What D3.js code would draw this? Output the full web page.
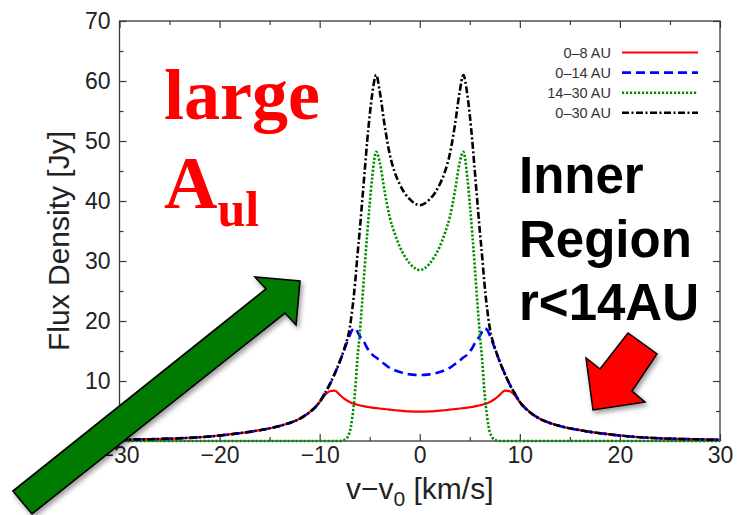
<!DOCTYPE html>
<html>
<head>
<meta charset="utf-8">
<script src="https://cdn.jsdelivr.net/npm/d3@7"></script>
<style>
  html, body { margin: 0; padding: 0; background: #fff; }
  svg { display: block; }
</style>
</head>
<body>
<div id="chart"></div>
<script>
// Line-of-sight velocity grid [km/s]
const velocity = [-30,-27,-24,-21,-18,-16,-14,-13,-12,-11,-10,-9.5,-9,-8.5,-8,-7.5,-7,-6.75,-6.45,-6.25,-6,-5.75,-5.5,-5.25,-5,-4.75,-4.35,-4,-3.5,-3,-2.5,-2,-1.5,-1,-0.5,0,
  0.5,1,1.5,2,2.5,3,3.5,4,4.35,4.75,5,5.25,5.5,5.75,6,6.25,6.45,6.75,7,7.5,8,8.5,9,9.5,10,11,12,13,14,16,18,21,24,27,30];

// Flux density [Jy] emitted from each radial range of the disk
const flux0to8 = [0.2,0.3,0.45,0.75,1.3,1.8,2.5,3.0,3.7,4.8,6.5,7.6,8.3,8.4,7.7,7.0,6.5,6.3,6.15,6.05,5.95,5.85,5.78,5.7,5.63,5.56,5.48,5.42,5.32,5.22,5.13,5.05,4.98,4.93,4.9,4.88,
  4.9,4.93,4.98,5.05,5.13,5.22,5.32,5.42,5.48,5.56,5.63,5.7,5.78,5.85,5.95,6.05,6.15,6.3,6.5,7.0,7.7,8.4,8.3,7.6,6.5,4.8,3.7,3.0,2.5,1.8,1.3,0.75,0.45,0.3,0.2];
const flux0to14 = [0.2,0.3,0.45,0.75,1.3,1.8,2.5,3.0,3.7,4.8,6.5,7.9,9.4,11.2,13.2,15.4,17.6,18.5,18.8,18.3,17.5,16.9,16.3,15.5,14.9,14.4,13.9,13.4,12.8,12.2,11.8,11.5,11.25,11.1,11.02,11.0,
  11.02,11.1,11.25,11.5,11.8,12.2,12.8,13.4,13.9,14.4,14.9,15.5,16.3,16.9,17.5,18.3,18.8,18.5,17.6,15.4,13.2,11.2,9.4,7.9,6.5,4.8,3.7,3.0,2.5,1.8,1.3,0.75,0.45,0.3,0.2];
const flux14to30 = [0,0,0,0,0,0,0,0,0,0,0,0,0,0,0,0.2,1.5,3.8,8.5,13.2,17.8,23.2,29.0,34.5,39.5,44.0,48.2,46.5,41.5,37.3,34.6,32.4,30.8,29.6,28.8,28.5,
  28.8,29.6,30.8,32.4,34.6,37.3,41.5,46.5,48.2,44.0,39.5,34.5,29.0,23.2,17.8,13.2,8.5,3.8,1.5,0.2,0,0,0,0,0,0,0,0,0,0,0,0,0,0,0];
const flux0to30 = [0.2,0.3,0.45,0.75,1.3,1.8,2.5,3.0,3.7,4.8,6.5,7.9,9.4,11.2,13.2,15.6,18.8,21.8,26.5,30.5,35.0,40.0,45.0,50.0,54.3,57.8,61.0,58.3,52.5,47.8,44.8,42.8,41.3,40.3,39.6,39.3,
  39.6,40.3,41.3,42.8,44.8,47.8,52.5,58.3,61.0,57.8,54.3,50.0,45.0,40.0,35.0,30.5,26.5,21.8,18.8,15.6,13.2,11.2,9.4,7.9,6.5,4.8,3.7,3.0,2.5,1.8,1.3,0.75,0.45,0.3,0.2];

const seriesLabels = ["0–8 AU", "0–14 AU", "14–30 AU", "0–30 AU"];
const xTicks = [-30, -20, -10, 0, 10, 20, 30];
const xMinorTicks = [-25, -15, -5, 5, 15, 25];
const yTicks = [10, 20, 30, 40, 50, 60, 70];
const yMinorTicks = [5, 15, 25, 35, 45, 55, 65];

const W = 741, H = 515;
const margin = { left: 119.5, right: 21, top: 21, bottom: 74 };

const svg = d3.select("#chart").append("svg")
  .attr("width", W).attr("height", H)
  .attr("viewBox", `0 0 ${W} ${H}`);

const defs = svg.append("defs");
const shadow = defs.append("filter").attr("id", "arrowShadow")
  .attr("x", "-20%").attr("y", "-20%").attr("width", "140%").attr("height", "140%");
shadow.append("feDropShadow")
  .attr("dx", 2).attr("dy", 3).attr("stdDeviation", 2.5)
  .attr("flood-color", "#000").attr("flood-opacity", 0.4);

const x = d3.scaleLinear().domain([-30, 30]).range([margin.left, W - margin.right]);
const y = d3.scaleLinear().domain([0, 70]).range([H - margin.bottom, margin.top]);

const axisFont = "'Liberation Sans', Arial, Helvetica, sans-serif";
const axisColor = "#3a3a3a";

// Axes: ticks point inward and are mirrored on the top and right edges
function styleAxis(g) {
  g.select(".domain").remove();
  g.selectAll(".tick line").attr("stroke", axisColor).attr("stroke-width", 1.2);
  g.selectAll(".tick text").attr("fill", "#222")
    .style("font-family", axisFont).style("font-size", "23px");
}

svg.append("g").attr("transform", `translate(0,${y(0)})`)
  .call(d3.axisBottom(x).tickValues(xTicks).tickSize(-7).tickPadding(6).tickFormat(d3.format("d")))
  .call(styleAxis);
svg.append("g").attr("transform", `translate(0,${y(0)})`)
  .call(d3.axisBottom(x).tickValues(xMinorTicks).tickSize(-4).tickFormat(""))
  .call(styleAxis);
svg.append("g").attr("transform", `translate(0,${y(70)})`)
  .call(d3.axisTop(x).tickValues(xTicks).tickSize(-7).tickFormat(""))
  .call(styleAxis);
svg.append("g").attr("transform", `translate(0,${y(70)})`)
  .call(d3.axisTop(x).tickValues(xMinorTicks).tickSize(-4).tickFormat(""))
  .call(styleAxis);

svg.append("g").attr("transform", `translate(${x(-30)},0)`)
  .call(d3.axisLeft(y).tickValues(yTicks).tickSize(-7).tickPadding(9).tickFormat(d3.format("d")))
  .call(styleAxis);
svg.append("g").attr("transform", `translate(${x(-30)},0)`)
  .call(d3.axisLeft(y).tickValues(yMinorTicks).tickSize(-4).tickFormat(""))
  .call(styleAxis);
svg.append("g").attr("transform", `translate(${x(30)},0)`)
  .call(d3.axisRight(y).tickValues(yTicks).tickSize(-7).tickFormat(""))
  .call(styleAxis);
svg.append("g").attr("transform", `translate(${x(30)},0)`)
  .call(d3.axisRight(y).tickValues(yMinorTicks).tickSize(-4).tickFormat(""))
  .call(styleAxis);

// Plot frame
svg.append("rect")
  .attr("x", x(-30)).attr("y", y(70))
  .attr("width", x(30) - x(-30)).attr("height", y(0) - y(70))
  .attr("fill", "none").attr("stroke", axisColor).attr("stroke-width", 1.3);

// Axis titles
svg.append("text")
  .attr("transform", `translate(69,${(y(0) + y(70)) / 2 + 10}) rotate(-90)`)
  .attr("text-anchor", "middle")
  .style("font-family", axisFont).style("font-size", "30px").attr("fill", "#222")
  .text("Flux Density [Jy]");

const xTitle = svg.append("text")
  .attr("x", (x(-30) + x(30)) / 2 + 0).attr("y", 499)
  .attr("text-anchor", "middle")
  .style("font-family", axisFont).style("font-size", "30px").attr("fill", "#222");
xTitle.append("tspan").text("v−v");
xTitle.append("tspan").attr("dy", 7).style("font-size", "21px").text("0");
xTitle.append("tspan").attr("dy", -7).text(" [km/s]");

// Line profiles
const series = [
  { label: seriesLabels[0], values: flux0to8,   color: "#ff0000", dash: null,          width: 2.2 },
  { label: seriesLabels[1], values: flux0to14,  color: "#0000ff", dash: "9,5",         width: 2.6 },
  { label: seriesLabels[2], values: flux14to30, color: "#008c00", dash: "2.2,1.8",     width: 2.6 },
  { label: seriesLabels[3], values: flux0to30,  color: "#000000", dash: "7,2.5,2,2.5", width: 2.6 }
];

const line = d3.line()
  .x((d, i) => x(velocity[i]))
  .y(d => y(d))
  .curve(d3.curveMonotoneX);

const plot = svg.append("g");
series.forEach(s => {
  plot.append("path")
    .datum(s.values)
    .attr("d", line)
    .attr("fill", "none")
    .attr("stroke", s.color)
    .attr("stroke-width", s.width)
    .attr("stroke-dasharray", s.dash)
    .attr("stroke-linejoin", "round");
});

// Legend
const legend = svg.append("g");
series.forEach((s, i) => {
  const ly = 52.5 + i * 20.1;
  legend.append("text")
    .attr("x", 611).attr("y", ly + 5)
    .attr("text-anchor", "end")
    .style("font-family", axisFont).style("font-size", "14.5px").attr("fill", "#333")
    .text(s.label);
  legend.append("line")
    .attr("x1", 622).attr("x2", 698).attr("y1", ly).attr("y2", ly)
    .attr("stroke", s.color).attr("stroke-width", s.width)
    .attr("stroke-dasharray", s.dash);
});

// Annotations
const serif = "'Liberation Serif', 'Times New Roman', Times, serif";
svg.append("text")
  .attr("x", 164).attr("y", 119)
  .style("font-family", serif).style("font-weight", "bold").style("font-size", "72px")
  .attr("fill", "#ff0000")
  .text("large");
const aul = svg.append("text")
  .attr("x", 164).attr("y", 208)
  .style("font-family", serif).style("font-weight", "bold").style("font-size", "74px")
  .attr("fill", "#ff0000");
aul.append("tspan").text("A");
aul.append("tspan").attr("dy", 18).style("font-size", "50px").text("ul");

const inner = svg.append("text")
  .style("font-family", axisFont).style("font-weight", "bold").style("font-size", "51px")
  .attr("fill", "#000");
["Inner", "Region", "r<14AU"].forEach((t, i) => {
  inner.append("tspan").attr("x", 519).attr("y", 193 + i * 63.5).text(t);
});

// Arrows
svg.append("path")
  .attr("d", "M593,410 L586,358 L600,369 L628,333 L657,354 L632,391 L645,402 Z")
  .attr("fill", "#ff0000").attr("stroke", "#000").attr("stroke-width", 1.5)
  .attr("stroke-linejoin", "miter")
  .attr("filter", "url(#arrowShadow)");

svg.append("path")
  .attr("d", "M13,491 L266,289 L255,277 L300,281 L296,325 L285,313 L32,514 Z")
  .attr("fill", "#007a00").attr("stroke", "#000").attr("stroke-width", 1.6)
  .attr("stroke-linejoin", "miter")
  .attr("filter", "url(#arrowShadow)");
</script>
</body>
</html>
